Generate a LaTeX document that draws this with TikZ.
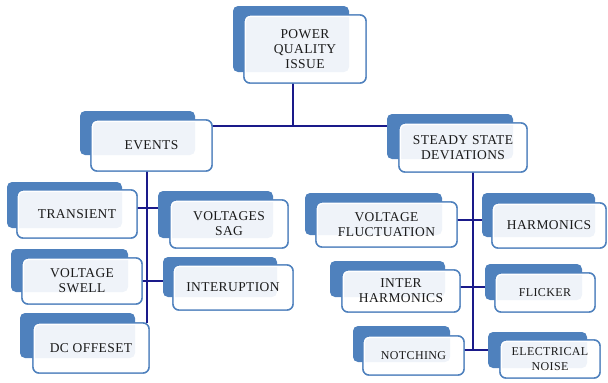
\documentclass[tikz,border=0pt]{standalone}
\usepackage{fontspec}
\setmainfont[LetterSpace=3]{Liberation Serif}
\definecolor{pqblue}{HTML}{4F81BD}
\definecolor{pqline}{HTML}{1A1A8A}
\definecolor{pqtext}{HTML}{1A1A1A}
\pgfdeclarelayer{bg}
\pgfsetlayers{bg,main}
\newcommand\smf{\fontsize{12}{13.5}\selectfont}
\tikzset{
  backbox/.style={fill=pqblue, rounded corners=5pt, inner sep=0pt, outer sep=0pt},
  frontfill/.style={fill=white, fill opacity=0.91, draw=white, draw opacity=1, line width=2pt, rounded corners=5pt, inner sep=0pt, outer sep=0pt},
  frontline/.style={draw=pqblue, line width=1.4pt, rounded corners=6pt, inner sep=0pt, outer sep=0pt},
  txt/.style={align=center, text=pqtext, font=\fontsize{13.5}{15}\selectfont, inner sep=0pt},
  conn/.style={draw=pqline, line width=1.6pt}
}
% #1 name, #2 back centre, #3 back w, #4 back h, #5 front centre, #6 front w, #7 front h, #8 text
\newcommand\pqbox[8]{%
  \node[backbox, minimum width=#3pt, minimum height=#4pt] (#1b) at #2 {};
  \node[frontline, minimum width=#6pt, minimum height=#7pt] (#1) at #5 {};
  \node[frontfill, minimum width=#6pt-2pt, minimum height=#7pt-2pt] at #5 {};
  \node[frontline, minimum width=#6pt, minimum height=#7pt] at #5 {};
  \node[txt] at #5 {#8};
}
\begin{document}
\begin{tikzpicture}[x=1pt,y=-1pt]
\useasboundingbox (0,0) rectangle (608,383);

\pqbox{root}{(291,39)}{116}{66}{(305,49)}{122}{68}{POWER\\QUALITY\\ISSUE}
\pqbox{events}{(137.5,133)}{115}{44}{(151.5,145.5)}{121}{51}{EVENTS}
\pqbox{steady}{(450,136.5)}{126}{45}{(463,147.5)}{128}{49}{STEADY STATE\\DEVIATIONS}

\pqbox{transient}{(64.5,205)}{115}{46}{(77,214)}{120}{48}{TRANSIENT}
\pqbox{sag}{(215.5,214.5)}{115}{47}{(229,224)}{118}{48}{VOLTAGES\\SAG}
\pqbox{swell}{(69.5,270.5)}{117}{43}{(82,281)}{120}{46}{VOLTAGE\\SWELL}
\pqbox{interup}{(220,277)}{114}{40}{(233,287.5)}{120}{45}{INTERUPTION}
\pqbox{dc}{(77.5,335.5)}{115}{45}{(91,348)}{116}{50}{DC OFFESET}

\pqbox{fluct}{(373.5,214)}{137}{42}{(386.5,224.5)}{141}{45}{VOLTAGE\\FLUCTUATION}
\pqbox{harm}{(538.5,215)}{113}{44}{(549,225.5)}{114}{45}{HARMONICS}
\pqbox{interh}{(387.5,279)}{115}{36}{(401,291)}{118}{42}{INTER\\HARMONICS}
\pqbox{flick}{(533.5,282)}{97}{36}{(545,292.5)}{100}{39}{\smf FLICKER}
\pqbox{notch}{(401.5,344)}{97}{36}{(413.5,355.5)}{101}{39}{\smf NOTCHING}
\pqbox{noise}{(537.5,350)}{99}{36}{(550,359)}{100}{38}{\smf ELECTRICAL\\\smf NOISE}

\coordinate (j0) at (293,126);
\coordinate (j1) at (147,0);
\coordinate (j2) at (147,208);
\coordinate (j3) at (147,281);
\coordinate (k0) at (473,0);
\coordinate (k1) at (473,220);
\coordinate (k2) at (473,287);
\coordinate (k3) at (473,350);

\begin{pgfonlayer}{bg}
\draw[conn] (root.south -| j0) -- (j0);
\draw[conn] (events.east |- j0) -- (steadyb.west |- j0);
\draw[conn] (events.south -| j1) -- (dc.north -| j1);
\draw[conn] (transient.east |- j2) -- (sagb.west |- j2);
\draw[conn] (swell.east |- j3) -- (interupb.west |- j3);
\draw[conn] (steady.south -| k0) -- (k3);
\draw[conn] (fluct.east |- k1) -- (harmb.west |- k1);
\draw[conn] (interh.east |- k2) -- (flickb.west |- k2);
\draw[conn] (notch.east |- k3) -- (noiseb.west |- k3);
\end{pgfonlayer}
\end{tikzpicture}
\end{document}
